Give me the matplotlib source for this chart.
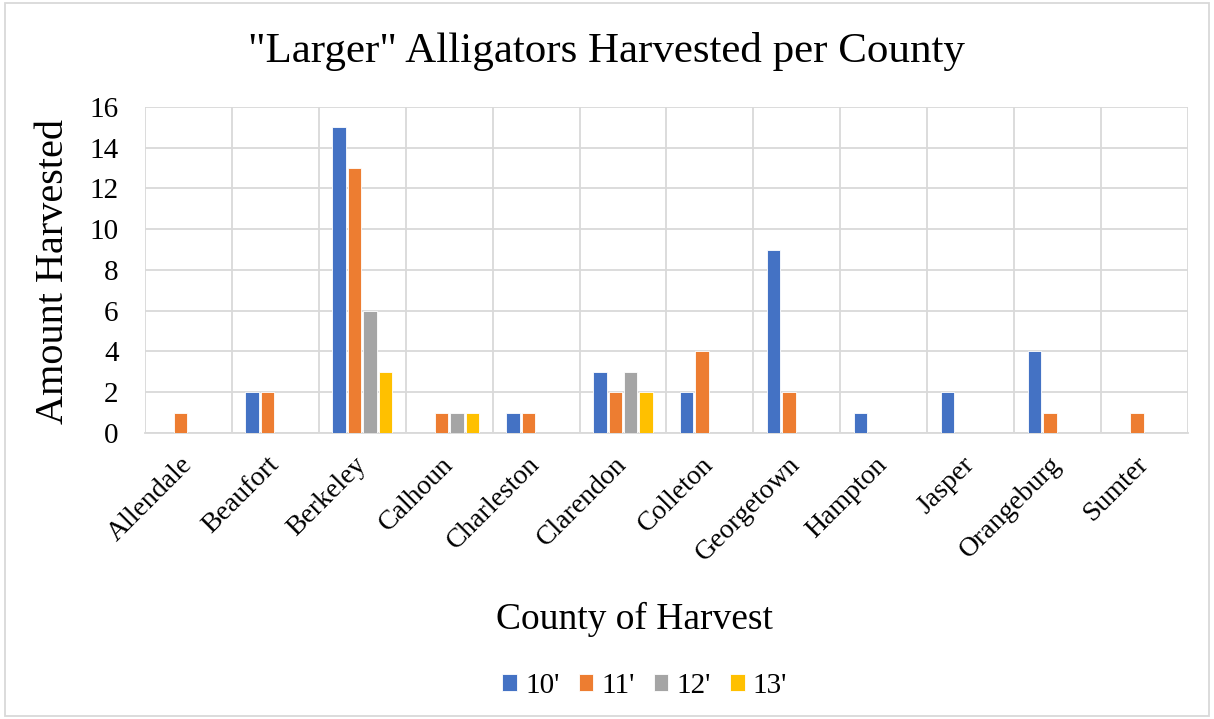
import matplotlib.pyplot as plt
import numpy as np
from matplotlib.patches import Rectangle

counties = ["Allendale", "Beaufort", "Berkeley", "Calhoun", "Charleston",
            "Clarendon", "Colleton", "Georgetown", "Hampton", "Jasper",
            "Orangeburg", "Sumter"]
sizes = ["10'", "11'", "12'", "13'"]
ft10 = [0, 2, 15, 0, 1, 3, 2, 9, 1, 2, 4, 0]
ft11 = [1, 2, 13, 1, 1, 2, 4, 2, 0, 0, 1, 1]
ft12 = [0, 0, 6, 1, 0, 3, 0, 0, 0, 0, 0, 0]
ft13 = [0, 0, 3, 1, 0, 2, 0, 0, 0, 0, 0, 0]
y_ticks = [0, 2, 4, 6, 8, 10, 12, 14, 16]

colors = ["#4472C4", "#ED7D31", "#A5A5A5", "#FFC000"]
grid_col = "#D9D9D9"

plt.rcParams["font.family"] = ["Liberation Serif", "DejaVu Serif"]

fig = plt.figure(figsize=(12.14, 7.19), dpi=100)
ax = fig.add_axes([0.1194, 0.3978, 0.8592, 0.4534])

x = np.arange(len(counties))
step = 0.178
width = 0.155
for i, (vals, name) in enumerate(zip([ft10, ft11, ft12, ft13], sizes)):
    ax.bar(x + (i - 1.5) * step, vals, width, color=colors[i], label=name,
           edgecolor="white", linewidth=0.6, zorder=3)

ax.set_xlim(-0.5, len(counties) - 0.5)
ax.set_ylim(0, 16)
ax.set_yticks(y_ticks)
ax.set_xticks(x)
ax.set_xticklabels(counties, rotation=45, ha="right", va="center",
                   rotation_mode="anchor", fontsize=20)
ax.set_xticks(np.arange(-0.5, len(counties)), minor=True)
ax.tick_params(axis="x", which="both", length=0)
ax.tick_params(axis="x", pad=20)
ax.tick_params(axis="y", length=0, labelsize=21, pad=19)
ax.grid(axis="y", color=grid_col, linewidth=1.3, zorder=0)
ax.grid(axis="x", which="minor", color=grid_col, linewidth=1.3, zorder=0)
for s in ["top", "right", "left"]:
    ax.spines[s].set_visible(False)
ax.spines["bottom"].set_color(grid_col)
ax.spines["bottom"].set_linewidth(1.3)

ax.set_ylabel("Amount Harvested", fontsize=29)
ax.yaxis.set_label_coords(-0.070, 0.494)
fig.text(0.523, 0.139, "County of Harvest", fontsize=27, ha="center",
         va="center")
fig.text(0.4996, 0.928, '"Larger" Alligators Harvested per County',
         fontsize=31, ha="center", va="center")

fig.legend(loc="center", bbox_to_anchor=(0.531, 0.046), ncol=4, frameon=False,
           fontsize=21, handlelength=0.51, handleheight=0.51,
           handletextpad=0.27, columnspacing=0.65)

fig.patches.append(Rectangle((0.004, 0.004), 0.992, 0.992, transform=fig.transFigure,
                             fill=False, edgecolor=grid_col, linewidth=1.3))

fig.savefig("out.png", dpi=100)
